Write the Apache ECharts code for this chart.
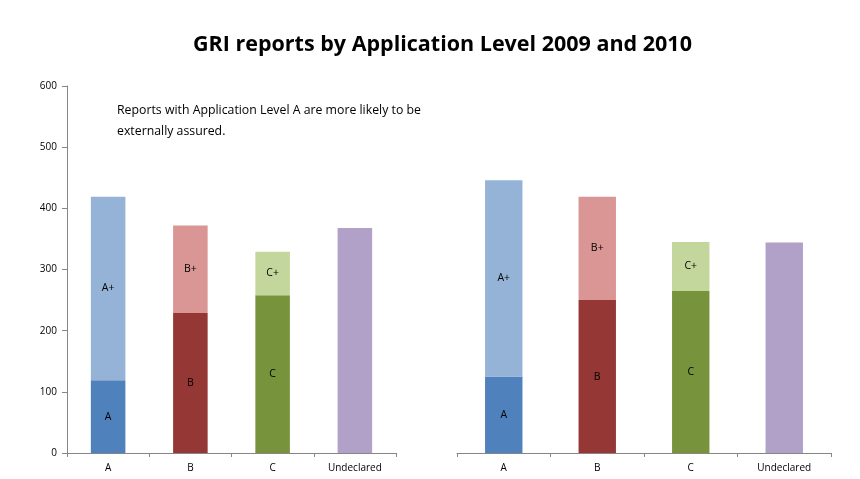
<!DOCTYPE html>
<html>
<head>
<meta charset="utf-8">
<script src="https://cdn.jsdelivr.net/npm/echarts@6/dist/echarts.min.js"></script>
<style>html,body{margin:0;padding:0;background:#fff;}#c{width:860px;height:479px;}</style>
</head>
<body>
<div id="c"></div>
<script>
const categories = ['A', 'B', 'C', 'Undeclared'];
const baseLabels = ['A', 'B', 'C', ''];
const plusLabels = ['A+', 'B+', 'C+', ''];
const base2009 = [119, 229, 258, 368];
const plus2009 = [300, 143, 71, null];
const base2010 = [125, 250, 265, 344];
const plus2010 = [321, 169, 80, null];
const yTicks = [0, 100, 200, 300, 400, 500, 600];
const baseColors = ['#4F81BD', '#953735', '#77933C', '#B1A0C7'];
const plusColors = ['#95B3D7', '#D99694', '#C3D69B', '#C3D69B'];

const FONT = 'Open Sans, Liberation Sans, sans-serif';

function mkData(vals, colors, labels) {
  return vals.map((v, i) => v == null ? '-' : ({
    value: v,
    itemStyle: { color: colors[i] },
    label: { show: !!labels[i], formatter: labels[i] }
  }));
}

function xAxis(idx) {
  return {
    type: 'category', gridIndex: idx, data: categories,
    axisLine: { lineStyle: { color: '#868686', width: 1 } },
    axisTick: { show: true, length: 4, lineStyle: { color: '#868686' } },
    axisLabel: { color: '#000', fontSize: 10, fontFamily: FONT, margin: 10 }
  };
}
function yAxis(idx, show) {
  return {
    type: 'value', gridIndex: idx, min: 0, max: 600, interval: 100,
    show: true,
    axisLine: { show: show, lineStyle: { color: '#868686' } },
    axisTick: { show: show, length: 5, lineStyle: { color: '#868686' } },
    axisLabel: { show: show, color: '#000', fontSize: 10, fontFamily: FONT, margin: 10,
      formatter: v => yTicks.includes(v) ? String(v) : '' },
    splitLine: { show: false }
  };
}
const labelStyle = { position: 'inside', color: '#000', fontSize: 10.5, fontFamily: FONT };

const option = {
  backgroundColor: '#fff',
  animation: false,
  title: {
    text: 'GRI reports by Application Level 2009 and 2010',
    left: 188, top: 29,
    textStyle: { fontSize: 21.5, fontWeight: 'bold', color: '#000', fontFamily: FONT }
  },
  graphic: [{
    type: 'text', left: 117, top: 100,
    style: {
      text: 'Reports with Application Level A are more likely to be\nexternally assured.',
      fontSize: 12.3, lineHeight: 21, fill: '#000', fontFamily: FONT
    }
  }],
  grid: [
    { left: 67, right: 464, top: 86, bottom: 26 },
    { left: 457, right: 29, top: 86, bottom: 26 }
  ],
  xAxis: [xAxis(0), xAxis(1)],
  yAxis: [yAxis(0, true), yAxis(1, false)],
  series: [
    { type: 'bar', xAxisIndex: 0, yAxisIndex: 0, stack: 's09', barWidth: '42%',
      label: labelStyle, data: mkData(base2009, baseColors, baseLabels) },
    { type: 'bar', xAxisIndex: 0, yAxisIndex: 0, stack: 's09', barWidth: '42%',
      label: labelStyle, data: mkData(plus2009, plusColors, plusLabels) },
    { type: 'bar', xAxisIndex: 1, yAxisIndex: 1, stack: 's10', barWidth: '40%',
      label: labelStyle, data: mkData(base2010, baseColors, baseLabels) },
    { type: 'bar', xAxisIndex: 1, yAxisIndex: 1, stack: 's10', barWidth: '40%',
      label: labelStyle, data: mkData(plus2010, plusColors, plusLabels) }
  ]
};
const chart = echarts.init(document.getElementById('c'), null, { renderer: 'canvas' });
chart.setOption(option);
</script>
</body>
</html>
